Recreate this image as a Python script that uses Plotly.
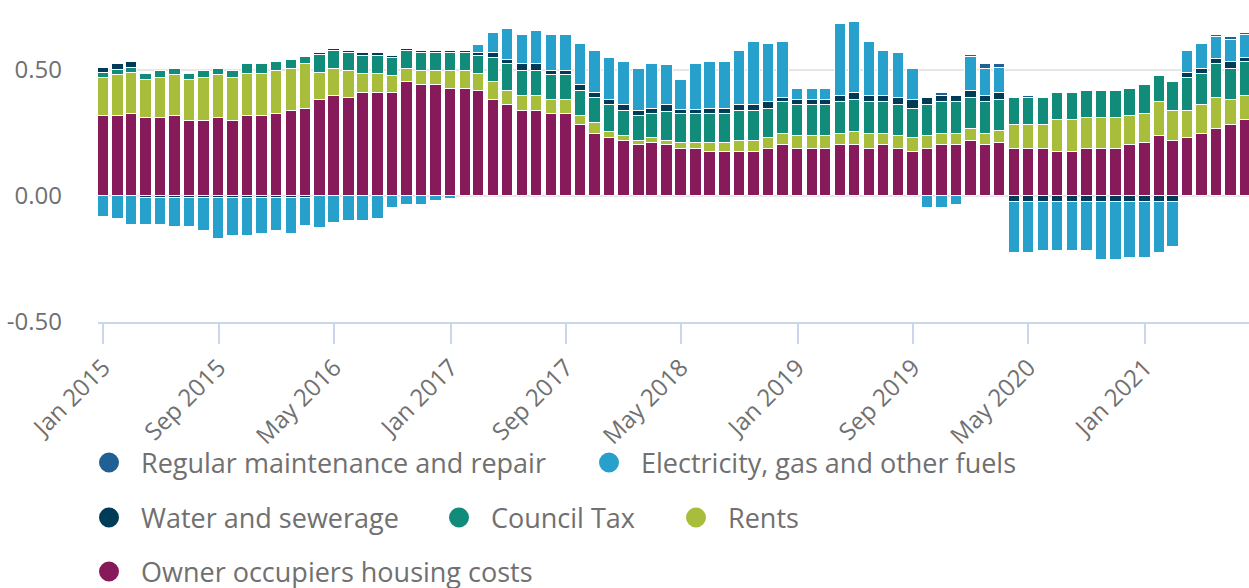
"""
Вклад жилищных компонентов в CPIH — столбчатая диаграмма с накоплением.
"""

import pandas as pd
import plotly.graph_objects as go

# Месяцы: Jan 2015 .. Aug 2021
months = pd.date_range('2015-01-01', '2021-08-01', freq='MS')

owner_occupiers = [
    0.317, 0.317, 0.327, 0.308, 0.308, 0.317, 0.299, 0.299, 0.308, 0.299,
    0.317, 0.317, 0.327, 0.336, 0.345, 0.381, 0.398, 0.389, 0.407, 0.407,
    0.407, 0.451, 0.442, 0.442, 0.425, 0.425, 0.415, 0.381, 0.362, 0.336,
    0.336, 0.327, 0.327, 0.282, 0.246, 0.229, 0.220, 0.202, 0.212, 0.202,
    0.185, 0.185, 0.176, 0.176, 0.176, 0.176, 0.185, 0.202, 0.185, 0.185,
    0.185, 0.202, 0.202, 0.185, 0.202, 0.185, 0.176, 0.185, 0.202, 0.202,
    0.220, 0.202, 0.212, 0.185, 0.185, 0.185, 0.176, 0.176, 0.185, 0.185,
    0.185, 0.202, 0.212, 0.238, 0.220, 0.229, 0.246, 0.265, 0.282, 0.300,
]

rents = [
    0.151, 0.163, 0.160, 0.152, 0.160, 0.163, 0.161, 0.169, 0.171, 0.169,
    0.169, 0.169, 0.169, 0.169, 0.177, 0.106, 0.107, 0.107, 0.079, 0.079,
    0.071, 0.054, 0.054, 0.054, 0.071, 0.071, 0.071, 0.070, 0.053, 0.062,
    0.062, 0.054, 0.054, 0.036, 0.045, 0.026, 0.019, 0.017, 0.017, 0.017,
    0.026, 0.026, 0.036, 0.036, 0.044, 0.044, 0.044, 0.044, 0.053, 0.053,
    0.053, 0.044, 0.053, 0.061, 0.044, 0.053, 0.053, 0.053, 0.044, 0.044,
    0.045, 0.044, 0.044, 0.097, 0.097, 0.097, 0.124, 0.124, 0.124, 0.124,
    0.124, 0.115, 0.115, 0.134, 0.116, 0.107, 0.116, 0.124, 0.099, 0.098,
]

council_tax = [
    0.019, 0.019, 0.019, 0.026, 0.028, 0.025, 0.026, 0.028, 0.026, 0.028,
    0.036, 0.036, 0.036, 0.036, 0.028, 0.071, 0.070, 0.071, 0.071, 0.071,
    0.070, 0.070, 0.071, 0.071, 0.071, 0.071, 0.071, 0.098, 0.107, 0.098,
    0.098, 0.098, 0.098, 0.098, 0.098, 0.107, 0.098, 0.098, 0.098, 0.116,
    0.115, 0.115, 0.115, 0.115, 0.116, 0.116, 0.115, 0.126, 0.124, 0.124,
    0.124, 0.126, 0.126, 0.126, 0.126, 0.124, 0.115, 0.124, 0.126, 0.126,
    0.124, 0.126, 0.126, 0.107, 0.107, 0.107, 0.107, 0.107, 0.106, 0.106,
    0.106, 0.107, 0.115, 0.106, 0.115, 0.134, 0.124, 0.134, 0.124, 0.134,
]

water_sewerage = [
    0.019, 0.024, 0.026, -0.008, -0.008, -0.008, -0.008, -0.008, -0.008, -0.008,
    -0.008, -0.008, -0.008, -0.008, -0.008, 0.009, 0.009, 0.008, 0.009, 0.009,
    0.009, 0.009, 0.008, 0.008, 0.008, 0.008, 0.009, 0.019, 0.019, 0.026,
    0.026, 0.017, 0.017, 0.026, 0.019, 0.019, 0.026, 0.019, 0.017, 0.026,
    0.017, 0.017, 0.017, 0.017, 0.026, 0.026, 0.028, 0.017, 0.019, 0.019,
    0.019, 0.026, 0.026, 0.026, 0.026, 0.026, 0.037, 0.026, 0.026, 0.026,
    0.026, 0.026, 0.026, -0.024, -0.024, -0.024, -0.024, -0.024, -0.024, -0.024,
    -0.024, -0.024, -0.024, -0.024, -0.024, 0.017, 0.019, 0.019, 0.026, 0.017,
]

electricity_gas = [
    -0.082, -0.090, -0.116, -0.106, -0.106, -0.115, -0.115, -0.132, -0.161, -0.151,
    -0.151, -0.142, -0.132, -0.142, -0.112, -0.126, -0.108, -0.099, -0.099, -0.090,
    -0.046, -0.037, -0.037, -0.020, -0.011, 0.000, 0.034, 0.079, 0.123, 0.116,
    0.134, 0.143, 0.143, 0.161, 0.168, 0.168, 0.169, 0.169, 0.179, 0.160,
    0.116, 0.179, 0.188, 0.188, 0.213, 0.249, 0.232, 0.222, 0.044, 0.044,
    0.044, 0.284, 0.284, 0.213, 0.177, 0.179, 0.124, -0.046, -0.046, -0.037,
    0.135, 0.107, 0.098, -0.204, -0.204, -0.194, -0.194, -0.194, -0.194, -0.230,
    -0.230, -0.221, -0.221, -0.204, -0.177, 0.089, 0.098, 0.089, 0.089, 0.090,
]

maintenance_repair = [
    0, 0, 0, 0, 0, 0, 0, 0, 0, 0,
    0, 0, 0, 0, 0, 0, 0, 0, 0, 0,
    0, 0, 0, 0, 0, 0, 0, 0, 0, 0,
    0, 0, 0, 0, 0, 0, 0, 0, 0, 0,
    0, 0, 0, 0, 0, 0, 0, 0, 0, 0,
    0, 0, 0, 0, 0, 0, 0, 0, 0.009, 0,
    0.008, 0.017, 0.017, 0, 0.009, 0, 0, 0, 0, 0,
    0, 0, 0, 0, 0, 0, 0, 0.009, 0.009, 0.008,
]

tick_dates = ['2015-01-01', '2015-09-01', '2016-05-01', '2017-01-01', '2017-09-01',
              '2018-05-01', '2019-01-01', '2019-09-01', '2020-05-01', '2021-01-01']
tick_labels = ['Jan 2015', 'Sep 2015', 'May 2016', 'Jan 2017', 'Sep 2017',
               'May 2018', 'Jan 2019', 'Sep 2019', 'May 2020', 'Jan 2021']

# Порядок серий снизу вверх в стеке
series = [
    ('Owner occupiers housing costs', owner_occupiers, '#871A5B'),
    ('Rents', rents, '#A8BD3A'),
    ('Council Tax', council_tax, '#118C7B'),
    ('Water and sewerage', water_sewerage, '#003C57'),
    ('Electricity, gas and other fuels', electricity_gas, '#27A0CC'),
    ('Regular maintenance and repair', maintenance_repair, '#206095'),
]

# Позиции элементов легенды (центр кружка, px)
legend_pos = {
    'Regular maintenance and repair': (110, 463),
    'Electricity, gas and other fuels': (610, 463),
    'Water and sewerage': (110, 518),
    'Council Tax': (460, 518),
    'Rents': (697, 518),
    'Owner occupiers housing costs': (110, 572),
}

W, H = 1249, 588
TEXT = '#707070'
FONT = 'Open Sans'

fig = go.Figure()

bar_width = 24 * 24 * 3600 * 1000  # ~24 дня в мс

for name, values, color in series:
    fig.add_trace(go.Bar(
        x=months,
        y=values,
        name=name,
        width=bar_width,
        marker=dict(color=color, line=dict(color='white', width=1)),
        showlegend=False,
    ))

# Легенда с круглыми маркерами: отдельная легенда на каждый элемент
ITEM_W = 54
layout_legends = {}
for k, (name, values, color) in enumerate(series, 1):
    key = 'legend' if k == 1 else f'legend{k}'
    fig.add_trace(go.Scatter(
        x=[None], y=[None],
        mode='markers',
        name=name,
        marker=dict(color=color, size=22, symbol='circle',
                    line=dict(color=color, width=4)),
        legend=key,
        showlegend=True,
    ))
    cx, cy = legend_pos[name]
    layout_legends[key] = dict(
        x=(cx - (ITEM_W / 2 + 6)) / W,
        y=1 - cy / H,
        xref='container', yref='container',
        xanchor='left', yanchor='middle',
        orientation='h',
        itemsizing='trace',
        itemwidth=ITEM_W,
        font=dict(family=FONT, size=27, color=TEXT),
        bgcolor='rgba(0,0,0,0)',
    )

fig.update_layout(
    width=W,
    height=H,
    barmode='relative',
    bargap=0,
    plot_bgcolor='white',
    paper_bgcolor='white',
    margin=dict(l=98, r=0, t=0, b=H - 322),
    font=dict(family=FONT, size=24, color=TEXT),
    **layout_legends,
)

fig.update_xaxes(
    type='date',
    range=['2014-12-21', '2021-08-08'],
    tickvals=tick_dates,
    ticktext=tick_labels,
    tickangle=-45,
    ticks='outside',
    ticklen=20,
    tickwidth=2,
    tickcolor='#ccd6eb',
    showline=True,
    linecolor='#ccd6eb',
    linewidth=2,
    showgrid=False,
    zeroline=False,
    automargin=False,
    tickfont=dict(family=FONT, size=24, color=TEXT),
)

fig.update_yaxes(
    range=[-0.5, -0.5 + 322 / 252],
    tickvals=[-0.5, 0, 0.5],
    ticktext=['-0.50', '0.00', '0.50'],
    showgrid=True,
    gridcolor='#e6e6e6',
    gridwidth=2,
    zeroline=False,
    ticks='',
    ticklabelstandoff=35,
    automargin=False,
    tickfont=dict(family=FONT, size=24, color=TEXT),
)

# убираем стандартный отступ body, чтобы фигура встала в угол окна
fig.write_html(
    "out.html",
    config={'displayModeBar': False},
    post_script="document.body.style.margin = '0';",
)
